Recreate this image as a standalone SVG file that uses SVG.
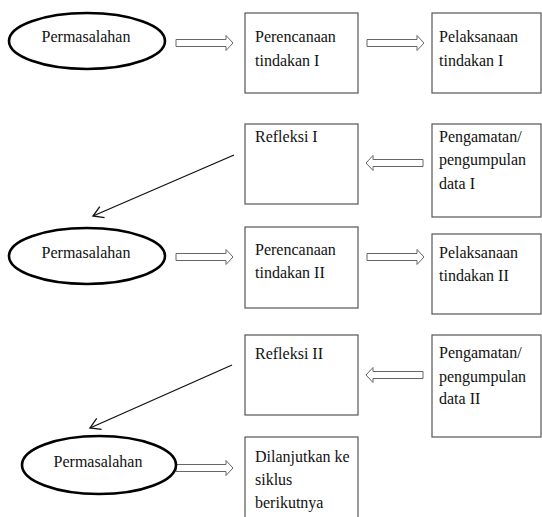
<svg xmlns="http://www.w3.org/2000/svg" width="542" height="517" viewBox="0 0 542 517">
<style>
.bg{fill:#fff}
.box{fill:#fff;stroke:#555;stroke-width:1.2}
.ell{fill:#fff;stroke:#000;stroke-width:2.6}
.t{font-family:'Liberation Serif','Times New Roman',serif;font-size:16px;fill:#111}
.ha{fill:#fff;stroke:#666;stroke-width:1}
.ln{stroke:#111;stroke-width:1.3;fill:none}
</style>
<defs>
<path id="harrow" d="M0,-3.5 H50 V-7.5 L57,0 L50,7.5 V3.5 H0 Z"/>
<marker id="vhead" markerWidth="14" markerHeight="14" refX="11" refY="7" orient="auto" markerUnits="userSpaceOnUse">
<path d="M1,1 L11,7 L1,13" fill="none" stroke="#111" stroke-width="1.3"/>
</marker>
</defs>
<rect class="bg" x="0" y="0" width="542" height="517"/>

<g id="connectors">
<use href="#harrow" class="ha" transform="translate(176,43)"/>
<use href="#harrow" class="ha" transform="translate(367,43)"/>
<use href="#harrow" class="ha" transform="translate(423,163) scale(-1,1)"/>
<use href="#harrow" class="ha" transform="translate(176,257)"/>
<use href="#harrow" class="ha" transform="translate(367,257)"/>
<use href="#harrow" class="ha" transform="translate(423,375) scale(-1,1)"/>
<use href="#harrow" class="ha" transform="translate(176,468)"/>
<line class="ln" x1="234" y1="155" x2="93" y2="216" marker-end="url(#vhead)"/>
<line class="ln" x1="232" y1="365" x2="90" y2="428" marker-end="url(#vhead)"/>
</g>

<g id="permasalahan1">
<ellipse class="ell" cx="87" cy="41" rx="78" ry="28"/>
<text class="t" x="86" y="42" text-anchor="middle">Permasalahan</text>
</g>
<g id="perencanaan1">
<rect class="box" x="245" y="13" width="113" height="80"/>
<text class="t" x="255" y="42">Perencanaan</text>
<text class="t" x="255" y="66">tindakan I</text>
</g>
<g id="pelaksanaan1">
<rect class="box" x="432" y="13" width="109" height="80"/>
<text class="t" x="439" y="42">Pelaksanaan</text>
<text class="t" x="439" y="66">tindakan I</text>
</g>
<g id="refleksi1">
<rect class="box" x="245" y="124" width="113" height="80"/>
<text class="t" x="255" y="142">Refleksi I</text>
</g>
<g id="pengamatan1">
<rect class="box" x="432" y="124" width="109" height="93"/>
<text class="t" x="439" y="142">Pengamatan/</text>
<text class="t" x="439" y="165">pengumpulan</text>
<text class="t" x="439" y="189">data I</text>
</g>
<g id="permasalahan2">
<ellipse class="ell" cx="87" cy="256" rx="78" ry="28"/>
<text class="t" x="86" y="258" text-anchor="middle">Permasalahan</text>
</g>
<g id="perencanaan2">
<rect class="box" x="245" y="227" width="113" height="81"/>
<text class="t" x="255" y="255">Perencanaan</text>
<text class="t" x="255" y="278">tindakan II</text>
</g>
<g id="pelaksanaan2">
<rect class="box" x="432" y="234" width="109" height="80"/>
<text class="t" x="439" y="258">Pelaksanaan</text>
<text class="t" x="439" y="281">tindakan II</text>
</g>
<g id="refleksi2">
<rect class="box" x="245" y="335" width="113" height="80"/>
<text class="t" x="255" y="359">Refleksi II</text>
</g>
<g id="pengamatan2">
<rect class="box" x="432" y="335" width="109" height="102"/>
<text class="t" x="439" y="358">Pengamatan/</text>
<text class="t" x="439" y="382">pengumpulan</text>
<text class="t" x="439" y="404">data II</text>
</g>
<g id="permasalahan3">
<ellipse class="ell" cx="99" cy="465" rx="77" ry="29"/>
<text class="t" x="98" y="467" text-anchor="middle">Permasalahan</text>
</g>
<g id="dilanjutkan">
<rect class="box" x="245" y="437" width="113" height="100"/>
<text class="t" x="255" y="462">Dilanjutkan ke</text>
<text class="t" x="255" y="485">siklus</text>
<text class="t" x="255" y="508">berikutnya</text>
</g>
</svg>
